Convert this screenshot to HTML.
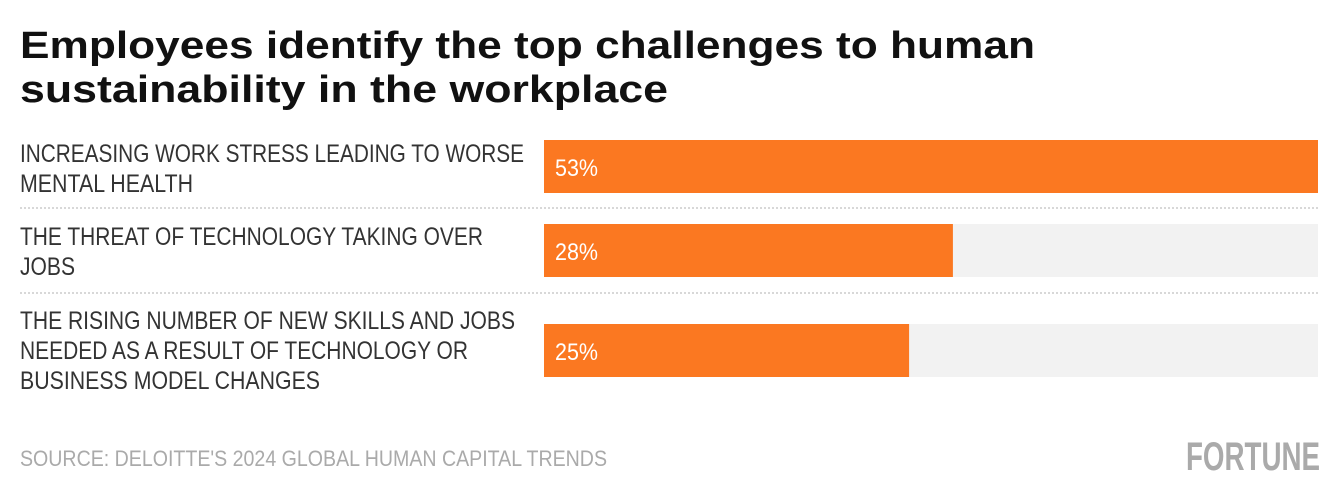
<!DOCTYPE html>
<html><head><meta charset="utf-8"><style>
html,body{margin:0;padding:0;background:#fff;}
svg{display:block;}
.lab{font-family:"Liberation Sans Narrow","Liberation Sans",sans-serif;font-size:25px;fill:#333;}
</style></head><body>
<svg id="chart" width="1340" height="500" xmlns="http://www.w3.org/2000/svg">
<text x="20" y="58" font-family="Liberation Sans, sans-serif" font-weight="bold" font-size="38" fill="#111" textLength="1015" lengthAdjust="spacingAndGlyphs">Employees identify the top challenges to human</text>
<text x="20" y="102" font-family="Liberation Sans, sans-serif" font-weight="bold" font-size="38" fill="#111" textLength="648" lengthAdjust="spacingAndGlyphs">sustainability in the workplace</text>
<g id="bars"></g>
<text x="20" y="466" font-family="Liberation Sans Narrow, Liberation Sans, sans-serif" font-size="22" fill="#aaa" textLength="587" lengthAdjust="spacingAndGlyphs">SOURCE: DELOITTE'S 2024 GLOBAL HUMAN CAPITAL TRENDS</text>
<text x="1186" y="470" font-family="Liberation Sans Narrow, Liberation Sans, sans-serif" font-weight="bold" font-size="40" fill="#aaa" textLength="134" lengthAdjust="spacingAndGlyphs">FORTUNE</text>
</svg>
<script>
const categories = [
  ["INCREASING WORK STRESS LEADING TO WORSE","MENTAL HEALTH"],
  ["THE THREAT OF TECHNOLOGY TAKING OVER","JOBS"],
  ["THE RISING NUMBER OF NEW SKILLS AND JOBS","NEEDED AS A RESULT OF TECHNOLOGY OR","BUSINESS MODEL CHANGES"]
];
const values = [53, 28, 25];
const valueLabels = ["53%", "28%", "25%"];

const NS = "http://www.w3.org/2000/svg";
const g = document.getElementById('bars');
const x0 = 544, x1 = 1318;
const maxV = Math.max(...values);
const xScale = v => x0 + (x1 - x0) * v / maxV;
const barTops = [140, 224, 324];
const labelTops = [162, 245, 329];
const lineWidths = [[504,173],[463,55],[495,448,300]];
function mk(tag, attrs){const e=document.createElementNS(NS,tag);for(const k in attrs)e.setAttribute(k,attrs[k]);return e;}
categories.forEach((lines,i)=>{
  const bg = mk('rect',{x:x0,y:barTops[i],width:x1-x0,height:53,fill:'#f2f2f2'});
  
  
  g.appendChild(bg);
  const r = mk('rect',{x:x0,y:barTops[i],width:xScale(values[i])-x0,height:53,fill:'#fb7821'});
  
  
  g.appendChild(r);
  const vt = mk('text',{x:555,y:barTops[i]+36,'font-family':'Liberation Sans Narrow, Liberation Sans, sans-serif','font-size':'24',fill:'#fff',textLength:43,lengthAdjust:'spacingAndGlyphs'});
  vt.textContent = valueLabels[i];
  
  
  g.appendChild(vt);
  lines.forEach((ln,j)=>{
    const t = mk('text',{x:20,y:labelTops[i]+j*30,class:'lab',textLength:lineWidths[i][j],lengthAdjust:'spacingAndGlyphs'});
    t.textContent = ln;
    
    
    g.appendChild(t);
  });
});
[208, 293].forEach(y=>{
  const l = mk('line',{x1:20,x2:1318,y1:y,y2:y,stroke:'#ccc','stroke-width':1.5,'stroke-dasharray':'2,2'});
  
  
  g.appendChild(l);
});
</script>
</body></html>
